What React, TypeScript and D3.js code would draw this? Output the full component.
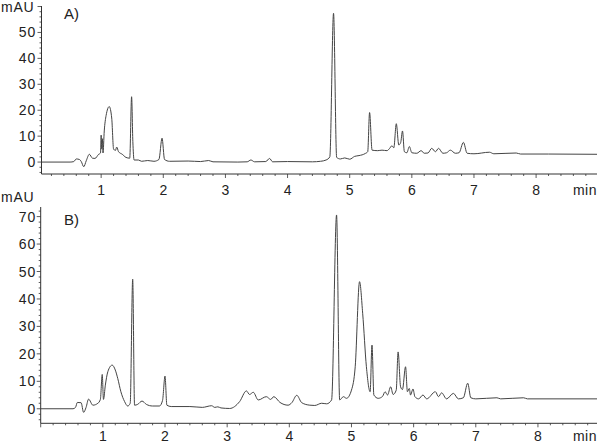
import React from 'react'
import * as d3 from 'd3'

const W = 600
const H = 444

// retention time (min), absorbance (mAU)
const traceA: [number, number][] = [
  [0.04, 0], [0.5, 0], [0.56, 0.2], [0.6, 1.2], [0.65, 1.0], [0.68, 0.2], [0.72, -1.8], [0.76, 0.5],
  [0.81, 3], [0.86, 1.5], [0.9, 1.4], [0.96, 3], [0.99, 3.5], [1.0, 10.4], [1.01, 5], [1.02, 9], [1.03, 3.5],
  [1.05, 12], [1.08, 18], [1.13, 21.4], [1.17, 17], [1.2, 5], [1.23, 4.5], [1.25, 5.8], [1.28, 4],
  [1.34, 3], [1.4, 1.8], [1.46, 1.5], [1.49, 25.2], [1.51, 8], [1.53, 0.8], [1.6, 0.8], [1.65, 0.3],
  [1.75, 0.6], [1.85, 0.3], [1.93, 1], [1.98, 9.2], [2.02, 1], [2.1, 0.3], [2.4, 0.4], [2.6, 0.2],
  [2.73, 0.6], [2.8, 0.1], [3.2, 0], [3.35, 0.1], [3.41, 0.8], [3.47, 0.1], [3.65, 0.2], [3.71, 1.4],
  [3.76, 0.1], [4.0, 0.2], [4.4, 0.1], [4.53, 0.3], [4.62, 0.8], [4.68, 2], [4.74, 57.4], [4.79, 1.8],
  [4.85, 1.2], [4.92, 1.6], [5.0, 1.1], [5.08, 2.2], [5.15, 2.5], [5.25, 3.3], [5.29, 4], [5.32, 19.1],
  [5.36, 4.6], [5.45, 4.4], [5.52, 4.6], [5.6, 4.4], [5.64, 5.2], [5.68, 6.3], [5.71, 5.5], [5.75, 14.8],
  [5.79, 6.6], [5.82, 7.5], [5.85, 12], [5.88, 4], [5.92, 3.6], [5.96, 6], [6.0, 3.6], [6.08, 3.4],
  [6.15, 4.4], [6.2, 3.4], [6.26, 3.5], [6.32, 5.3], [6.38, 4], [6.43, 5.3], [6.5, 3.4], [6.56, 3.6],
  [6.62, 4.6], [6.7, 3.4], [6.76, 3.6], [6.83, 7.6], [6.89, 3.4], [7.0, 3.2], [7.25, 3.8], [7.32, 3.2],
  [7.68, 3.5], [7.75, 3.1], [8.2, 3.1], [8.98, 3.0],
]

const traceB: [number, number][] = [
  [0, 0], [0.52, 0], [0.56, 0.5], [0.59, 2.3], [0.65, 2.2], [0.69, -1.3], [0.73, 0.5], [0.77, 3.5],
  [0.84, 1.3], [0.92, 2], [0.96, 3.4], [0.99, 12.5], [1.01, 3.4], [1.04, 8.6], [1.08, 13.5], [1.15, 15.9],
  [1.2, 14.1], [1.24, 11], [1.29, 6.2], [1.35, 2.6], [1.4, 1], [1.44, 2], [1.48, 47.2], [1.51, 1.3],
  [1.56, 1.6], [1.63, 2.8], [1.7, 1.6], [1.8, 1], [1.91, 1], [1.96, 3], [2.0, 11.9], [2.03, 1.3],
  [2.1, 0.8], [2.4, 0.8], [2.6, 0.5], [2.75, 1.1], [2.8, 0.5], [2.85, 0.7], [2.9, 0.3], [3.04, 0.1],
  [3.2, 2.6], [3.31, 6.5], [3.36, 5.2], [3.42, 6], [3.5, 3.2], [3.63, 4.4], [3.7, 3.4], [3.75, 4.4],
  [3.85, 2.3], [3.98, 1.3], [4.04, 2.2], [4.12, 4.9], [4.2, 2.2], [4.33, 1.3], [4.41, 1.2], [4.52, 2],
  [4.6, 1.8], [4.68, 3.2], [4.76, 70.6], [4.81, 3.2], [4.87, 4.4], [4.92, 3.8], [5.0, 6.8], [5.06, 15.3],
  [5.13, 46.3], [5.18, 34.8], [5.24, 15.3], [5.3, 6.2], [5.33, 23.2], [5.36, 5], [5.43, 3.8], [5.5, 4.5],
  [5.54, 6.2], [5.58, 5], [5.63, 8], [5.67, 5.2], [5.72, 6.8], [5.75, 20.7], [5.79, 8], [5.82, 7],
  [5.87, 15.3], [5.9, 6.2], [5.93, 7.4], [5.95, 5], [5.99, 7.2], [6.02, 4.4], [6.08, 3.6], [6.15, 5],
  [6.21, 3.6], [6.35, 6.2], [6.4, 4.4], [6.45, 5.8], [6.53, 3.6], [6.64, 5.6], [6.72, 3.6], [6.8, 4],
  [6.87, 9.3], [6.92, 4], [7.0, 3.6], [7.34, 4], [7.4, 3.6], [7.77, 4], [7.83, 3.6], [8.95, 3.6],
]

const xTicks = [1, 2, 3, 4, 5, 6, 7, 8]
const yTicksA = [0, 10, 20, 30, 40, 50]
const yTicksB = [0, 10, 20, 30, 40, 50, 60, 70]

const font = "'Liberation Sans', Arial, sans-serif"
const ink = '#222'

type PanelProps = {
  data: [number, number][]
  label: string
  yTicks: number[]
  xDomain: [number, number]
  xRange: [number, number]
  yDomain: [number, number]
  yRange: [number, number]
  unitY: number
  labelY: number
  tickLabelY: number
}

function Panel({ data, label, yTicks, xDomain, xRange, yDomain, yRange, unitY, labelY, tickLabelY }: PanelProps) {
  const x = d3.scaleLinear().domain(xDomain).range(xRange)
  const y = d3.scaleLinear().domain(yDomain).range(yRange)
  const line = d3.line<[number, number]>()
    .x(d => x(d[0]))
    .y(d => y(d[1]))
    .curve(d3.curveMonotoneX)

  const x0 = xRange[0]
  const yBase = yRange[0]
  const xMinor = d3.range(Math.ceil(xDomain[0] * 5) / 5, xDomain[1], 0.2)
  const yMinor = d3.range(Math.ceil(yDomain[0] / 2) * 2, yDomain[1], 2)

  return (
    <g fontFamily={font} fill={ink}>
      <text x={1} y={unitY} fontSize={14} letterSpacing={0.8}>mAU</text>
      <text x={64} y={labelY} fontSize={15}>{label}</text>

      {/* y axis */}
      <line x1={x0} x2={x0} y1={yRange[1]} y2={yBase} stroke="#333" strokeWidth={1} />
      {yMinor.map(v => (
        <line key={'ym' + v} x1={x0 - (v % 10 === 0 ? 4 : 2)} x2={x0} y1={y(v)} y2={y(v)} stroke="#333" strokeWidth={0.8} />
      ))}
      {yTicks.map(v => (
        <text key={'yl' + v} x={36} y={y(v)} dy="0.36em" textAnchor="end" fontSize={14} letterSpacing={0.8}>{v}</text>
      ))}

      {/* x axis */}
      <line x1={x0} x2={xRange[1]} y1={yBase} y2={yBase} stroke="#333" strokeWidth={1} />
      {xMinor.map(t => (
        <line key={'xm' + t.toFixed(1)} x1={x(t)} x2={x(t)} y1={yBase} y2={yBase + (Math.abs(t - Math.round(t)) < 0.01 ? 4 : 2)} stroke="#333" strokeWidth={0.8} />
      ))}
      {xTicks.map(t => (
        <text key={'xl' + t} x={x(t)} y={tickLabelY} textAnchor="middle" fontSize={14}>{t}</text>
      ))}
      <text x={597} y={tickLabelY} textAnchor="end" fontSize={14} letterSpacing={0.5}>min</text>

      <path d={line(data) ?? ''} fill="none" stroke="#444" strokeWidth={1} strokeLinejoin="round" />
    </g>
  )
}

export default function App() {
  return (
    <svg width={W} height={H} style={{ position: 'absolute', left: 0, top: 0, background: '#fff' }}>
      <Panel
        data={traceA}
        label="A)"
        yTicks={yTicksA}
        xDomain={[0.04, 8.98]}
        xRange={[41.5, 597]}
        yDomain={[-4.6, 60.2]}
        yRange={[174, 6]}
        unitY={12}
        labelY={19}
        tickLabelY={195}
      />
      <Panel
        data={traceB}
        label="B)"
        yTicks={yTicksB}
        xDomain={[0, 8.95]}
        xRange={[40.7, 597]}
        yDomain={[-5.3, 73.5]}
        yRange={[423.3, 207]}
        unitY={201.5}
        labelY={225}
        tickLabelY={441}
      />
    </svg>
  )
}
